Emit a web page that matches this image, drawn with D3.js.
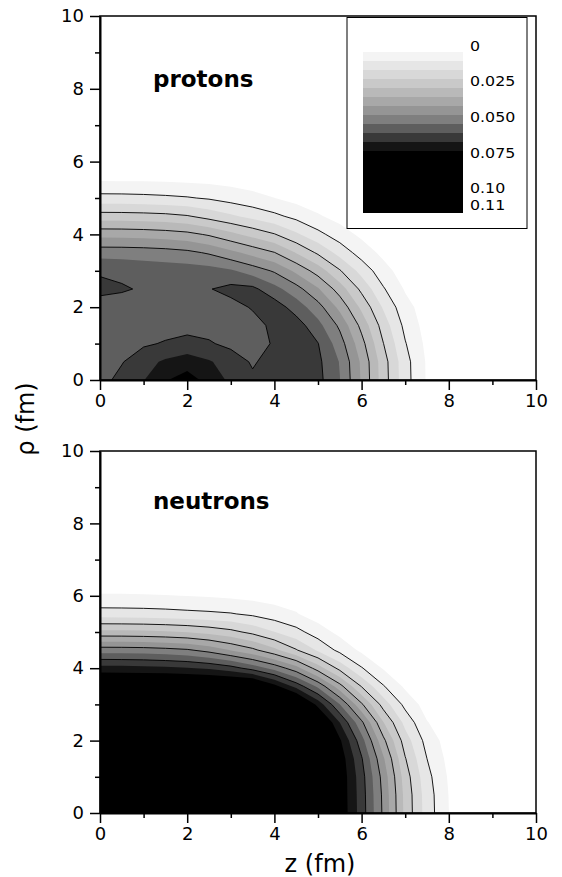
<!DOCTYPE html>
<html>
<head>
<meta charset="utf-8">
<script src="https://cdnjs.cloudflare.com/ajax/libs/d3/7.8.5/d3.min.js"></script>
<style>
  body { margin: 0; background: #ffffff; }
  svg text { font-family: "DejaVu Sans", "Liberation Sans", sans-serif; fill: #000; }
</style>
</head>
<body>
<div id="figure"></div>
<script>
// sampling grid of the density maps (fm)
var zGrid = [0, 0.5, 1, 1.5, 2, 2.5, 3, 3.5, 4, 4.5, 5, 5.5, 6, 6.5, 7, 7.5, 8, 8.5, 9];
var rhoGrid = [0, 0.5, 1, 1.5, 2, 2.5, 3, 3.5, 4, 4.5, 5, 5.5, 6, 6.5, 7];

// proton density, 1e-3 fm^-3, one row per rho value, one column per z value
var protonRows = [
    [60.3, 64.4, 68.5, 74.5, 78.0, 72.7, 67.4, 63.6, 65.0, 65.2, 64.4, 56.4, 43.0, 28.0, 15.0, 5.6, 1.85, 0.6, 0.2],
    [59.5, 62.1, 66.4, 69.8, 72.0, 69.4, 65.75, 61.8, 65.0, 65.0, 63.9, 55.9, 42.6, 27.7, 14.8, 5.5, 1.8, 0.6, 0.2],
    [59.0, 59.3, 61.6, 63.05, 64.5, 63.1, 61.0, 60.5, 63.0, 64.0, 62.7, 52.9, 39.7, 25.1, 12.9, 4.7, 1.6, 0.5, 0.2],
    [58.5, 58.7, 59.2, 60.0, 60.3, 60.3, 60.0, 60.5, 63.8, 65.5, 58.3, 48.7, 35.6, 22.1, 10.8, 3.75, 1.2, 0.4, 0.1],
    [60.0, 59.6, 59.0, 58.8, 59.0, 59.5, 60.5, 63.0, 65.8, 59.7, 52.5, 42.0, 29.8, 18.0, 8.4, 3.2, 1.3, 0.45, 0.15],
    [64.0, 63.2, 61.8, 59.5, 60.5, 62.2, 64.3, 64.0, 58.4, 52.45, 44.4, 34.5, 23.4, 13.1, 5.65, 2.6, 1.0, 0.35, 0.1],
    [61.8, 60.9, 60.0, 59.5, 59.2, 58.8, 57.1, 53.4, 49.2, 42.3, 34.7, 25.55, 16.5, 8.7, 3.0, 1.3, 0.5, 0.2, 0],
    [53.6, 53.5, 53.2, 52.6, 51.5, 49.2, 45.4, 41.5, 37.7, 30.9, 23.9, 16.4, 9.7, 4.6, 2.1, 0.9, 0.35, 0.1, 0],
    [41.7, 41.6, 41.2, 40.5, 39.3, 36.7, 32.9, 29.2, 25.4, 19.9, 14.3, 9.25, 4.9, 2.5, 1.3, 0.6, 0.2, 0.05, 0],
    [27.8, 27.7, 27.4, 26.8, 25.5, 22.7, 19.8, 16.9, 13.95, 10.7, 7.0, 4.0, 2.3, 1.2, 0.6, 0.25, 0.1, 0, 0],
    [14.6, 14.5, 14.2, 13.7, 13.0, 11.8, 9.9, 8.1, 6.3, 4.0, 2.2, 1.1, 0.5, 0.2, 0.1, 0, 0, 0, 0],
    [5.6, 5.6, 5.5, 5.3, 5.0, 4.6, 4.0, 3.3, 2.6, 1.9, 1.2, 0.7, 0.35, 0.15, 0.05, 0, 0, 0, 0],
    [1.85, 1.85, 1.8, 1.7, 1.6, 1.45, 1.3, 1.1, 0.9, 0.65, 0.4, 0.25, 0.1, 0.05, 0, 0, 0, 0, 0],
    [0.6, 0.6, 0.6, 0.55, 0.5, 0.45, 0.4, 0.35, 0.3, 0.2, 0.1, 0.05, 0, 0, 0, 0, 0, 0, 0],
    [0.2, 0.2, 0.2, 0.2, 0.15, 0.15, 0.1, 0.1, 0.1, 0.05, 0, 0, 0, 0, 0, 0, 0, 0, 0]
];

// neutron density, same layout
var neutronRows = [
    [89, 89, 89, 89, 89, 89, 89, 89, 89, 89, 89, 80.2, 65.7, 48.8, 29.5, 15.8, 6.3, 2.1, 0.7],
    [89, 89, 89, 89, 89, 89, 89, 89, 89, 89, 89, 80.0, 65.5, 48.5, 29.3, 15.6, 6.1, 2.0, 0.7],
    [89, 89, 89, 89, 89, 89, 89, 89, 89, 89, 89, 80.0, 65.0, 47.5, 28.1, 14.5, 5.5, 1.8, 0.6],
    [89, 89, 89, 89, 89, 89, 89, 89, 89, 89, 89, 79.1, 63.1, 44.6, 25.4, 12.5, 4.5, 1.5, 0.5],
    [89, 89, 89, 89, 89, 89, 89, 89, 89, 89, 89, 76.0, 58.7, 39.1, 21.9, 10.1, 3.4, 1.1, 0.4],
    [89, 89, 89, 89, 89, 89, 89, 89, 89, 89, 87.0, 68.7, 51.4, 31.5, 16.8, 6.6, 2.2, 0.7, 0.2],
    [89, 89, 89, 89, 89, 89, 89, 89, 89, 90.0, 72.8, 56.4, 38.5, 22.3, 10.6, 3.6, 1.2, 0.4, 0.1],
    [87, 87, 87, 87, 87, 87, 87, 87, 77.2, 66.4, 54.8, 39.8, 24.6, 13.0, 5.1, 1.7, 0.6, 0.2, 0],
    [71.3, 71.1, 70.8, 70.2, 69.3, 67.8, 65.0, 60.1, 54.1, 46.2, 34.5, 23.0, 13.0, 5.7, 1.9, 0.6, 0.2, 0, 0],
    [53.2, 53.1, 52.8, 52.0, 50.8, 47.8, 43.4, 39.0, 32.8, 25.5, 17.8, 10.7, 4.9, 2.3, 1.1, 0.4, 0.1, 0, 0],
    [33.0, 32.9, 32.6, 32.0, 31.0, 29.2, 26.8, 23.3, 18.9, 14.6, 9.3, 4.5, 2.3, 1.2, 0.5, 0.2, 0, 0, 0],
    [15.4, 15.3, 15.1, 14.7, 14.1, 13.6, 12.9, 11.3, 9.0, 6.7, 3.2, 1.6, 0.8, 0.35, 0.1, 0, 0, 0, 0],
    [6.8, 6.75, 6.65, 6.45, 6.15, 5.7, 5.1, 4.4, 3.6, 2.8, 2.0, 1.3, 0.7, 0.3, 0.1, 0, 0, 0, 0],
    [2.2, 2.2, 2.1, 2.0, 1.9, 1.7, 1.5, 1.3, 1.0, 0.8, 0.5, 0.3, 0.15, 0.05, 0, 0, 0, 0, 0],
    [0.6, 0.6, 0.55, 0.5, 0.5, 0.45, 0.4, 0.3, 0.25, 0.2, 0.1, 0.1, 0, 0, 0, 0, 0, 0, 0]
];

// contour levels (fm^-3): filled steps and the levels that get a line
var levels = [0.00625, 0.0125, 0.01875, 0.025, 0.03125, 0.0375, 0.04375, 0.05, 0.05625, 0.0625, 0.06875, 0.075];
var lineLevels = [0.0125, 0.025, 0.0375, 0.05, 0.0625];
var legendMax = 0.118;
var legendTicks = [0, 0.025, 0.05, 0.075, 0.10, 0.11];
var legendLabels = ["0", "0.025", "0.050", "0.075", "0.10", "0.11"];

var axisDomain = [0, 10];
var majorTicks = [0, 2, 4, 6, 8, 10];
var minorTicks = [1, 3, 5, 7, 9];
var panelNames = ["protons", "neutrons"];

// grey steps, lightest first
var grays = ["#f4f4f4", "#e6e6e6", "#d8d8d8", "#c9c9c9", "#b9b9b9", "#a8a8a8",
             "#959595", "#7f7f7f", "#5e5e5e", "#393939", "#151515", "#000000"];

var left = 100, right = 536;

var svg = d3.select("#figure")
    .append("svg")
        .attr("width", 562)
        .attr("height", 877);

function draw_density_map(rows, top, bottom, name, clipId, labelY) {

    var x = d3.scaleLinear().domain(axisDomain).range([left, right]);
    var y = d3.scaleLinear().domain(axisDomain).range([bottom, top]);

    // flatten the table (rows = rho, columns = z) for d3.contours
    var values = [];
    rows.forEach(function(row) {
        row.forEach(function(v) { values.push(v / 1000); });
    });

    // d3.contours puts sample i at i + 0.5
    var dz = zGrid[1] - zGrid[0], dr = rhoGrid[1] - rhoGrid[0];
    var toAxes = d3.geoTransform({
        point: function(px, py) {
            this.stream.point(x(zGrid[0] + (px - 0.5) * dz), y(rhoGrid[0] + (py - 0.5) * dr));
        }
    });
    var path = d3.geoPath(toAxes);

    svg.append("clipPath").attr("id", clipId)
      .append("rect")
        .attr("x", left).attr("y", top)
        .attr("width", right - left).attr("height", bottom - top);

    var plot = svg.append("g").attr("clip-path", "url(#" + clipId + ")");

    var bands = d3.contours()
        .size([zGrid.length, rhoGrid.length])
        .thresholds(levels)(values);
    plot.selectAll(".band")
        .data(bands)
        .enter().append("path")
        .attr("class", "band")
        .attr("d", path)
        .attr("fill", function(d, i) { return grays[i]; });

    var isolines = d3.contours()
        .size([zGrid.length, rhoGrid.length])
        .thresholds(lineLevels)(values);
    plot.selectAll(".iso")
        .data(isolines)
        .enter().append("path")
        .attr("class", "iso")
        .attr("d", path)
        .attr("fill", "none")
        .attr("stroke", "#000")
        .attr("stroke-width", 0.9);

    // frame
    svg.append("rect")
        .attr("x", left).attr("y", top)
        .attr("width", right - left).attr("height", bottom - top)
        .attr("fill", "none")
        .attr("stroke", "#000")
        .attr("stroke-width", 1.5);

    // x axis
    var gx = svg.append("g")
        .attr("transform", "translate(0," + bottom + ")")
        .call(d3.axisBottom(x).tickValues(majorTicks).tickSize(10).tickSizeOuter(0).tickPadding(4));
    svg.append("g")
        .attr("transform", "translate(0," + bottom + ")")
        .call(d3.axisBottom(x).tickValues(minorTicks).tickSize(5).tickSizeOuter(0).tickFormat(""))
        .select(".domain").remove();

    // y axis
    var gy = svg.append("g")
        .attr("transform", "translate(" + left + ",0)")
        .call(d3.axisLeft(y).tickValues(majorTicks).tickSize(10).tickSizeOuter(0).tickPadding(6));
    svg.append("g")
        .attr("transform", "translate(" + left + ",0)")
        .call(d3.axisLeft(y).tickValues(minorTicks).tickSize(5).tickSizeOuter(0).tickFormat(""))
        .select(".domain").remove();

    [gx, gy].forEach(function(g) {
        g.attr("font-size", 18);
        g.select(".domain").attr("stroke-width", 2);
    });
    svg.selectAll(".tick line").attr("stroke-width", 1.5);

    svg.append("text")
        .attr("x", 153)
        .attr("y", labelY)
        .attr("font-size", 23)
        .attr("font-weight", "bold")
        .text(name);
}

draw_density_map(protonRows, 16, 380, panelNames[0], "clipP", 87);
draw_density_map(neutronRows, 451, 813, panelNames[1], "clipN", 509);

// legend of the grey steps
var ls = d3.scaleLinear().domain([0, 0.11]).range([43.5, 201.1]);
var lg = svg.append("g");
lg.append("rect")
    .attr("x", 347).attr("y", 17.5)
    .attr("width", 180).attr("height", 211)
    .attr("fill", "#fff")
    .attr("stroke", "#000")
    .attr("stroke-width", 1);
lg.selectAll(".key")
    .data(levels)
    .enter().append("rect")
    .attr("class", "key")
    .attr("x", 363)
    .attr("width", 100)
    .attr("y", function(d) { return ls(d); })
    .attr("height", function(d, i) {
        var hi = i + 1 < levels.length ? levels[i + 1] : legendMax;
        return ls(hi) - ls(d);
    })
    .attr("shape-rendering", "crispEdges")
    .attr("fill", function(d, i) { return grays[i]; });

// the two last labels sit close together, nudge them apart a little
var labelNudge = [2, 2, 2, 2, 1, 3.8];
lg.selectAll(".lab")
    .data(legendTicks)
    .enter().append("text")
    .attr("class", "lab")
    .attr("x", 470)
    .attr("y", function(d, i) { return ls(d) + labelNudge[i]; })
    .attr("dy", "0.36em")
    .attr("font-size", 14)
    .text(function(d, i) { return legendLabels[i]; })
    .each(function() {
        var w = this.getComputedTextLength();
        d3.select(this)
            .attr("textLength", w * 1.13)
            .attr("lengthAdjust", "spacingAndGlyphs");
    });

// axis titles
svg.append("text")
    .attr("x", 320)
    .attr("y", 872)
    .attr("text-anchor", "middle")
    .attr("font-size", 24)
    .text("z (fm)");
svg.append("text")
    .attr("transform", "translate(33.5,419) rotate(-90)")
    .attr("text-anchor", "middle")
    .attr("font-size", 24)
    .text("ρ (fm)");
</script>
</body>
</html>
